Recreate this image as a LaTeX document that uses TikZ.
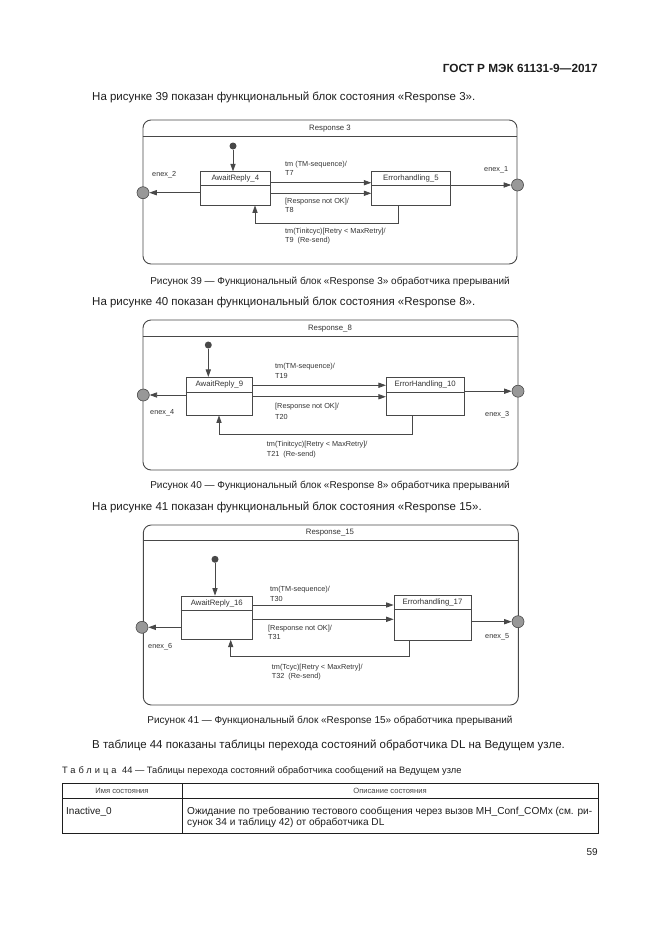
\documentclass[tikz,border=0pt]{standalone}
\usepackage{fontspec}
\setmainfont{Liberation Sans}
\usetikzlibrary{arrows.meta,calc}
\definecolor{ink}{HTML}{1E1E1E}
\definecolor{dline}{HTML}{484848}
\definecolor{dtext}{HTML}{333333}
\definecolor{exitfill}{HTML}{989898}
\definecolor{thead}{HTML}{444444}
\newcommand{\fsz}[2]{\fontsize{#1}{#2}\selectfont}
\tikzset{
  outerbox/.style={draw=dline, line width=0.9pt, rounded corners=8pt, inner sep=0pt},
  statebox/.style={draw=dline, line width=0.8pt, inner sep=0pt, fill=white},
  initdot/.style={circle, fill=dline, inner sep=0pt, minimum size=7pt},
  exitpt/.style={circle, draw=dline, fill=exitfill, inner sep=0pt, minimum size=12pt, line width=0.6pt},
  arr/.style={draw=dline, line width=0.8pt, -{Triangle[length=7.5pt,width=5.2pt]}},
  sep/.style={draw=dline, line width=0.7pt},
  dlab/.style={font=\fsz{7.3}{8.5}, text=dtext, inner sep=0pt, anchor=west},
  slab/.style={font=\fsz{7.8}{9}, text=dtext, inner sep=0pt},
  stitle/.style={font=\fsz{7.8}{9}, text=dtext, inner sep=0pt},
  body/.style={font=\fsz{11.5}{13}, text=ink, inner sep=0pt, anchor=base west},
  capt/.style={font=\fsz{10}{12}, text=ink, inner sep=0pt, anchor=base},
  tline/.style={draw=ink, line width=0.9pt},
}
\begin{document}
\begin{tikzpicture}[x=1pt,y=-1pt]
\useasboundingbox[fill=white] (0,0) rectangle (661,935);

% ---------- page header ----------
\node[font=\bfseries\fsz{11.8}{13}, text=ink, inner sep=0pt, anchor=base east] (hdr) at (598,72) {ГОСТ Р МЭК 61131-9—2017};
\node[body] (l1) at (92,100.8) {На рисунке 39 показан функциональный блок состояния «Response 3».};

% ---------- Diagram 1 ----------
\node[outerbox, minimum width=374pt, minimum height=144pt] (r1) at (330,192) {};
\node[stitle] (t1) at (330,128.6) {Response 3};
\draw[sep] ($(r1.north west)+(0,16.7)$) -- ($(r1.north east)+(0,16.7)$);
\node[initdot] (i1) at (233,146) {};
\node[statebox, minimum width=69.3pt, minimum height=33.3pt] (a1) at (235.35,188.35) {};
\draw[sep] ($(a1.north west)+(0,13.8)$) -- ($(a1.north east)+(0,13.8)$);
\node[slab] at ($(a1.north)+(0,6.9)$) {AwaitReply\_4};
\node[statebox, minimum width=78.3pt, minimum height=33.3pt] (b1) at (410.85,188.35) {};
\draw[sep] ($(b1.north west)+(0,13.8)$) -- ($(b1.north east)+(0,13.8)$);
\node[slab] at ($(b1.north)+(0,6.9)$) {Errorhandling\_5};
\node[exitpt] (x2) at (143,192.7) {};
\node[exitpt] (x1) at (517.5,185) {};
\draw[arr] (i1) -- (a1.north -| i1);
\draw[arr] ([yshift=5.65pt]a1.east) -- ([yshift=5.65pt]b1.west);
\draw[arr] ([yshift=-4.95pt]a1.east) -- ([yshift=-4.95pt]b1.west);
\draw[arr] (a1.west |- x2) -- (x2);
\draw[arr] (b1.east |- x1) -- (x1);
\coordinate (l1a) at (398,223.3);
\coordinate (l1b) at (255,223.3);
\draw[arr] (b1.south -| l1a) -- (l1a) -- (l1b) -- (a1.south -| l1b);
\node[dlab] at (285,165) {tm (TM-sequence)/};
\node[dlab] at (285,173.3) {T7};
\node[dlab] at (285,201.7) {[Response not OK]/};
\node[dlab] at (285,210) {T8};
\node[dlab] at (285,231.7) {tm(Tinitcyc)[Retry < MaxRetry]/};
\node[dlab] at (285,240.3) {T9\hspace{4pt}(Re-send)};
\node[dlab] at (152,175) {enex\_2};
\node[dlab] at (484,169.3) {enex\_1};

\node[capt] (c1) at (330,284.4) {Рисунок 39 — Функциональный блок «Response 3» обработчика прерываний};
\node[body] (l2) at (92,305.8) {На рисунке 40 показан функциональный блок состояния «Response 8».};

% ---------- Diagram 2 ----------
\node[outerbox, minimum width=375pt, minimum height=150pt] (r2) at (330.5,395) {};
\node[stitle] (t2) at (330,328.3) {Response\_8};
\draw[sep] ($(r2.north west)+(0,16.7)$) -- ($(r2.north east)+(0,16.7)$);
\node[initdot] (i2) at (208.3,345) {};
\node[statebox, minimum width=66.7pt, minimum height=37.7pt] (a2) at (219.35,396.15) {};
\draw[sep] ($(a2.north west)+(0,15.5)$) -- ($(a2.north east)+(0,15.5)$);
\node[slab] at ($(a2.north)+(0,7.8)$) {AwaitReply\_9};
\node[statebox, minimum width=77.7pt, minimum height=37.5pt] (b2) at (425.15,396.25) {};
\draw[sep] ($(b2.north west)+(0,15.5)$) -- ($(b2.north east)+(0,15.5)$);
\node[slab] at ($(b2.north)+(0,7.8)$) {ErrorHandling\_10};
\node[exitpt] (x4) at (143.3,395) {};
\node[exitpt] (x3) at (518,391.2) {};
\draw[arr] (i2) -- (a2.north -| i2);
\draw[arr] ([yshift=10.9pt]a2.east) -- ([yshift=10.9pt]a2.east -| b2.west);
\draw[arr] ([yshift=-0.6pt]a2.east) -- ([yshift=-0.6pt]a2.east -| b2.west);
\draw[arr] (a2.west |- x4) -- (x4);
\draw[arr] (b2.east |- x3) -- (x3);
\coordinate (l2a) at (412.7,434);
\coordinate (l2b) at (219,434);
\draw[arr] (b2.south -| l2a) -- (l2a) -- (l2b) -- (a2.south -| l2b);
\node[dlab] at (275,366.7) {tm(TM-sequence)/};
\node[dlab] at (275,375.7) {T19};
\node[dlab] at (275,406.7) {[Response not OK]/};
\node[dlab] at (275,416.7) {T20};
\node[dlab] at (266.7,444.3) {tm(Tinitcyc)[Retry < MaxRetry]/};
\node[dlab] at (266.7,454.3) {T21\hspace{4pt}(Re-send)};
\node[dlab] at (150,413) {enex\_4};
\node[dlab] at (485,415) {enex\_3};

\node[capt] (c2) at (330,488.4) {Рисунок 40 — Функциональный блок «Response 8» обработчика прерываний};
\node[body] (l3) at (92,510.8) {На рисунке 41 показан функциональный блок состояния «Response 15».};

% ---------- Diagram 3 ----------
\node[outerbox, minimum width=375pt, minimum height=180pt] (r3) at (330.8,615) {};
\node[stitle] (t3) at (330,532.3) {Response\_15};
\draw[sep] ($(r3.north west)+(0,16)$) -- ($(r3.north east)+(0,16)$);
\node[initdot] (i3) at (215,559.3) {};
\node[statebox, minimum width=71.7pt, minimum height=43.3pt] (a3) at (216.85,617.65) {};
\draw[sep] ($(a3.north west)+(0,14.7)$) -- ($(a3.north east)+(0,14.7)$);
\node[slab] at ($(a3.north)+(0,7.4)$) {AwaitReply\_16};
\node[statebox, minimum width=77pt, minimum height=45pt] (b3) at (432.5,617.5) {};
\draw[sep] ($(b3.north west)+(0,15)$) -- ($(b3.north east)+(0,15)$);
\node[slab] at ($(b3.north)+(0,7.5)$) {Errorhandling\_17};
\node[exitpt] (x6) at (142,627.3) {};
\node[exitpt] (x5) at (518,621.7) {};
\draw[arr] (i3) -- (a3.north -| i3);
\draw[arr] ([yshift=12.65pt]a3.east) -- ([yshift=12.65pt]a3.east -| b3.west);
\draw[arr] ([yshift=-1.65pt]a3.east) -- ([yshift=-1.65pt]a3.east -| b3.west);
\draw[arr] (a3.west |- x6) -- (x6);
\draw[arr] (b3.east |- x5) -- (x5);
\coordinate (l3a) at (409.3,656.5);
\coordinate (l3b) at (230.7,656.5);
\draw[arr] (b3.south -| l3a) -- (l3a) -- (l3b) -- (a3.south -| l3b);
\node[dlab] at (270,590) {tm(TM-sequence)/};
\node[dlab] at (270,599.3) {T30};
\node[dlab] at (268,628.3) {[Response not OK]/};
\node[dlab] at (268,636.7) {T31};
\node[dlab] at (271.7,667.3) {tm(Tcyc)[Retry < MaxRetry]/};
\node[dlab] at (271.7,676.7) {T32\hspace{4pt}(Re-send)};
\node[dlab] at (148,646.7) {enex\_6};
\node[dlab] at (485,636.7) {enex\_5};

\node[capt] (c3) at (330,723.4) {Рисунок 41 — Функциональный блок «Response 15» обработчика прерываний};
\node[body] (l4) at (92,748.8) {В таблице 44 показаны таблицы перехода состояний обработчика DL на Ведущем узле.};

% ---------- Table ----------
\node[font=\fsz{9.3}{12}, text=ink, inner sep=0pt, anchor=base west] (tc) at (62,773.4) {{\addfontfeatures{LetterSpace=32}Таблица}\hspace{3pt} 44 — Таблицы перехода состояний обработчика сообщений на Ведущем узле};
\draw[tline] (62,783) rectangle (598,833);
\draw[tline] (62,798.5) -- (598,798.5);
\draw[tline] (182,783) -- (182,833);
\node[font=\fsz{7.6}{9}, text=thead, inner sep=0pt] (h1) at (122,790.7) {Имя состояния};
\node[font=\fsz{7.6}{9}, text=thead, inner sep=0pt] (h2) at (390,790.7) {Описание состояния};
\node[font=\fsz{10}{12}, text=ink, inner sep=0pt, anchor=base west] (r1c1) at (66,814) {Inactive\_0};
\node[font=\fsz{10.1}{12}, text=ink, inner sep=0pt, anchor=base west] (r1c2a) at (187,814) {\makebox[405pt][s]{Ожидание по требованию тестового сообщения через вызов MH\_Conf\_COMx (см. ри-}};
\node[font=\fsz{10.1}{12}, text=ink, inner sep=0pt, anchor=base west] (r1c2b) at (187,825.5) {сунок 34 и таблицу 42) от обработчика DL};

\node[font=\fsz{10}{12}, text=ink, inner sep=0pt, anchor=base east] (pg) at (598,855.5) {59};
\end{tikzpicture}
\end{document}
